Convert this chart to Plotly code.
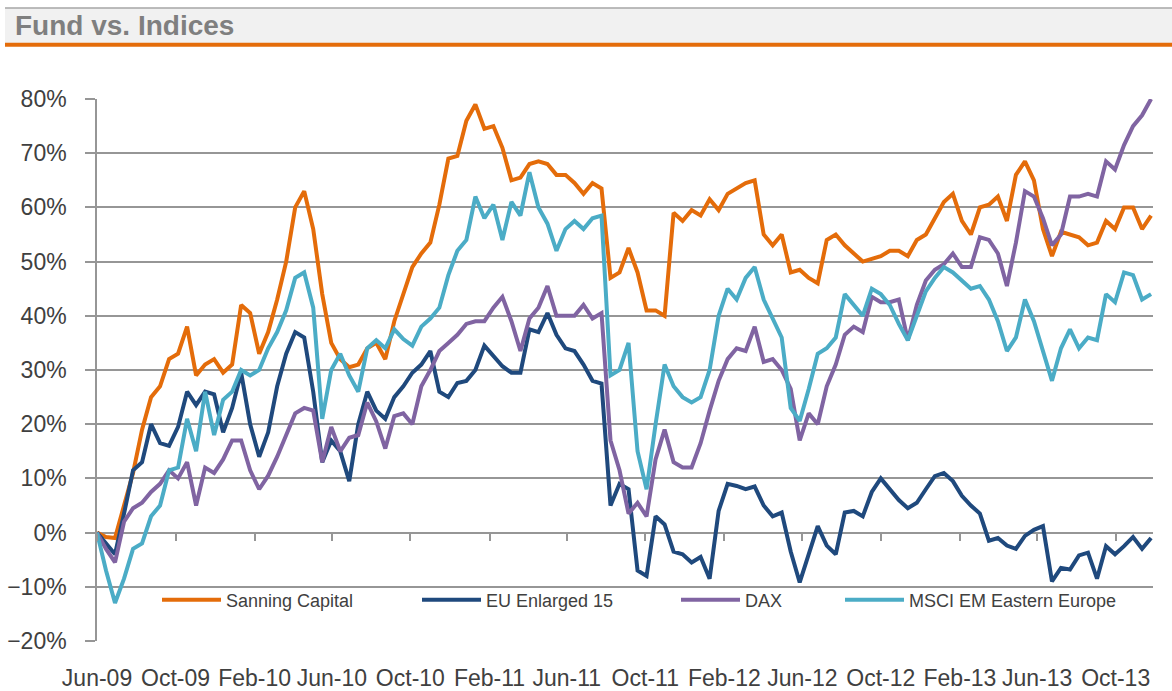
import pandas as pd
import plotly.graph_objects as go

# ---- data (percent, biweekly samples starting 1 Jun 2009) ----
start_date = "2009-06-01"
step = "14D"

sanning_capital = [
    0, -0.8, -1, 5, 11, 19, 25, 27, 32, 33, 38, 29, 31, 32, 29.5, 31, 42, 40.5, 33, 37,
    43, 50, 60, 63, 56, 44, 35, 32, 30.5, 31, 34, 35, 32, 39, 44, 49, 51.5, 53.5, 60.5, 69,
    69.5, 76, 79, 74.5, 75, 71, 65, 65.5, 68, 68.5, 68, 66, 66, 64.5, 62.5, 64.5, 63.5, 47, 48, 52.5,
    48, 41, 41, 40, 59, 57.5, 59.5, 58.5, 61.5, 59.5, 62.5, 63.5, 64.5, 65, 55, 53, 55, 48, 48.5, 47,
    46, 54, 55, 53, 51.5, 50, 50.5, 51, 52, 52, 51, 54, 55, 58, 61, 62.5, 57.5, 55, 60, 60.5,
    62, 57.5, 66, 68.5, 65, 56, 51, 55.5, 55, 54.5, 53, 53.5, 57.5, 56, 60, 60, 56, 58.5,
]

eu_enlarged_15 = [
    0, -2, -4, 3.5, 11.5, 13, 20, 16.5, 16, 19.5, 26, 23.5, 26, 25.5, 18.5, 23, 29.5, 20, 14, 18.5,
    27, 33, 37, 36, 26, 13, 17, 15, 9.5, 20, 26, 22.5, 21, 25, 27, 29.5, 31, 33.5, 26, 25,
    27.6, 28, 30, 34.5, 32.5, 30.7, 29.5, 29.5, 37.5, 37, 40.5, 36.5, 34, 33.5, 31, 28, 27.5, 5, 9, 8,
    -7, -8, 3, 1.5, -3.5, -4, -5.5, -4.5, -8.5, 4, 9, 8.6, 8, 8.5, 5, 3, 3.7, -3.5, -9.2, -4,
    1.2, -2.4, -4, 3.7, 4, 3, 7.5, 10, 8, 6, 4.5, 5.5, 8, 10.4, 11, 9.5, 6.8, 5, 3.5, -1.5,
    -1, -2.4, -3, -0.6, 0.5, 1.2, -9, -6.5, -6.8, -4.2, -3.7, -8.5, -2.5, -4, -2.5, -0.8, -3, -1,
]

dax = [
    0, -3, -5.5, 2, 4.5, 5.5, 7.5, 9, 11.5, 10, 13, 5, 12, 11, 13.5, 17, 17, 11.5, 8, 10.5,
    14, 18, 22, 23, 22.5, 13, 19.5, 15, 17.5, 18, 24, 20.5, 15.5, 21.5, 22, 20, 27, 30, 33.5, 35,
    36.5, 38.5, 39, 39, 41.5, 43.5, 39, 33.5, 39.5, 41.5, 45.5, 40, 40, 40, 42, 39.5, 40.5, 17, 11.5, 3.5,
    5.5, 3, 13.5, 19, 13, 12, 12, 16.5, 22.5, 28, 32, 34, 33.5, 38, 31.5, 32, 30, 26.5, 17, 22,
    20, 27, 31, 36.5, 38, 37, 43.5, 42.5, 42.5, 43, 35.5, 42, 46.5, 48.5, 49.5, 51.5, 49, 49, 54.5, 54,
    51.5, 45.5, 53.5, 63, 62, 58, 53, 55, 62, 62, 62.5, 62, 68.5, 67, 71.5, 75, 77, 80,
]

msci_em_eastern_europe = [
    0, -7, -13, -8.5, -3, -2, 3, 5, 11.5, 12, 21, 15, 26, 18, 24.5, 26, 30, 29, 30, 34,
    37, 41, 47, 48, 41.5, 21, 30, 33, 29, 26, 34, 35.5, 34, 37.5, 35.7, 34.5, 38, 39.5, 41.5, 47.5,
    52, 54, 62, 58, 60.5, 54, 61, 58.5, 66.5, 60, 57, 52, 56, 57.5, 56, 58, 58.5, 29, 30, 35,
    15, 8, 20, 31, 27, 25, 24, 25, 30, 40, 45, 43, 47, 49, 43, 39.5, 36, 23, 20.6, 26.5,
    33, 34, 36, 44, 42, 40, 45, 44, 42, 38.5, 35.5, 40, 44.5, 47, 49, 48, 46.5, 45, 45.5, 43,
    39, 33.5, 36, 43, 39, 33.5, 28, 34, 37.5, 34, 36, 35.5, 44, 42.5, 48, 47.5, 43, 44,
]

series_names = ["Sanning Capital", "EU Enlarged 15", "DAX", "MSCI EM Eastern Europe"]
series_values = [sanning_capital, eu_enlarged_15, dax, msci_em_eastern_europe]
series_colors = ["#E46C0A", "#1F497D", "#8064A2", "#4BACC6"]
series_xaxes = ["x", "x", "x", "x2"]

tick_dates = ["2009-06-01", "2009-10-01", "2010-02-01", "2010-06-01", "2010-10-01",
              "2011-02-01", "2011-06-01", "2011-10-01", "2012-02-01", "2012-06-01",
              "2012-10-01", "2013-02-01", "2013-06-01", "2013-10-01"]
tick_labels = ["Jun-09", "Oct-09", "Feb-10", "Jun-10", "Oct-10", "Feb-11", "Jun-11",
               "Oct-11", "Feb-12", "Jun-12", "Oct-12", "Feb-13", "Jun-13", "Oct-13"]

# ---- layout geometry (pixels) ----
W, H = 1172, 691
L, R, T, B = 97, 19, 99, 50
PW, PH = W - L - R, H - T - B


def px_x(p):
    return (p - L) / PW


def px_y(p):
    return (H - B - p) / PH


FONT = "Liberation Sans, Arial, sans-serif"
GRID = "#969696"

fig = go.Figure()
legend_ids = ["legend", "legend2", "legend3", "legend4"]
legend_line_start = [162, 422, 681, 845]

for name, vals, col, lid, xa in zip(series_names, series_values, series_colors,
                                    legend_ids, series_xaxes):
    dates = pd.date_range(start_date, periods=len(vals), freq=step)
    fig.add_trace(go.Scatter(
        x=dates, y=vals, mode="lines", name=name,
        line=dict(color=col, width=4),
        legend=lid, hoverinfo="skip", xaxis=xa, yaxis="y",
    ))

legends = {}
for lid, ls in zip(legend_ids, legend_line_start):
    legends[lid] = dict(
        x=px_x(ls - 5), y=px_y(600), xanchor="left", yanchor="middle",
        bgcolor="rgba(0,0,0,0)", borderwidth=0, itemwidth=59,
        font=dict(family=FONT, size=18, color="#404040"),
        orientation="h",
    )

fig.update_layout(
    width=W, height=H,
    margin=dict(l=L, r=R, t=T, b=B, pad=0, autoexpand=False),
    paper_bgcolor="white", plot_bgcolor="white",
    showlegend=True,
    xaxis=dict(
        type="date",
        range=["2009-06-01", "2013-11-28"],
        tickvals=tick_dates, ticktext=tick_labels,
        ticks="outside", ticklen=16, tickcolor="rgba(0,0,0,0)",
        tickfont=dict(family=FONT, size=23, color="#404040"),
        showgrid=False, showline=False, zeroline=False, automargin=False,
    ),
    xaxis2=dict(
        type="date", overlaying="x", matches="x", anchor="free", position=0.2,
        tickvals=tick_dates, ticks="outside", ticklen=7, tickwidth=1.5,
        tickcolor=GRID, showticklabels=False, showgrid=False,
        showline=False, zeroline=False, automargin=False,
    ),
    yaxis=dict(
        range=[-20, 80], dtick=10, tick0=0, ticksuffix="%",
        ticks="outside", ticklen=10, tickwidth=1.5, tickcolor=GRID,
        ticklabelstandoff=14,
        tickfont=dict(family=FONT, size=23, color="#404040"),
        showgrid=True, gridcolor=GRID, gridwidth=1.5,
        showline=True, linecolor=GRID, linewidth=1.5,
        zeroline=False, automargin=False,
    ),
    **legends,
)

# title band
fig.add_shape(type="rect", xref="paper", yref="paper",
              x0=px_x(5), x1=px_x(1172), y0=px_y(44), y1=px_y(8),
              fillcolor="#F1F1F1", line=dict(width=0), layer="below")
fig.add_shape(type="line", xref="paper", yref="paper",
              x0=px_x(5), x1=px_x(1172), y0=px_y(8), y1=px_y(8),
              line=dict(color="#A6A6A6", width=1.5))
fig.add_shape(type="line", xref="paper", yref="paper",
              x0=px_x(5), x1=px_x(1172), y0=px_y(44.7), y1=px_y(44.7),
              line=dict(color="#E46C0A", width=4))
fig.add_annotation(text="<b>Fund vs. Indices</b>", xref="paper", yref="paper",
                   x=px_x(13), y=px_y(25), xanchor="left", yanchor="middle",
                   showarrow=False,
                   font=dict(family=FONT, size=28, color="#7F7F7F"))

fig.write_html("out.html")
